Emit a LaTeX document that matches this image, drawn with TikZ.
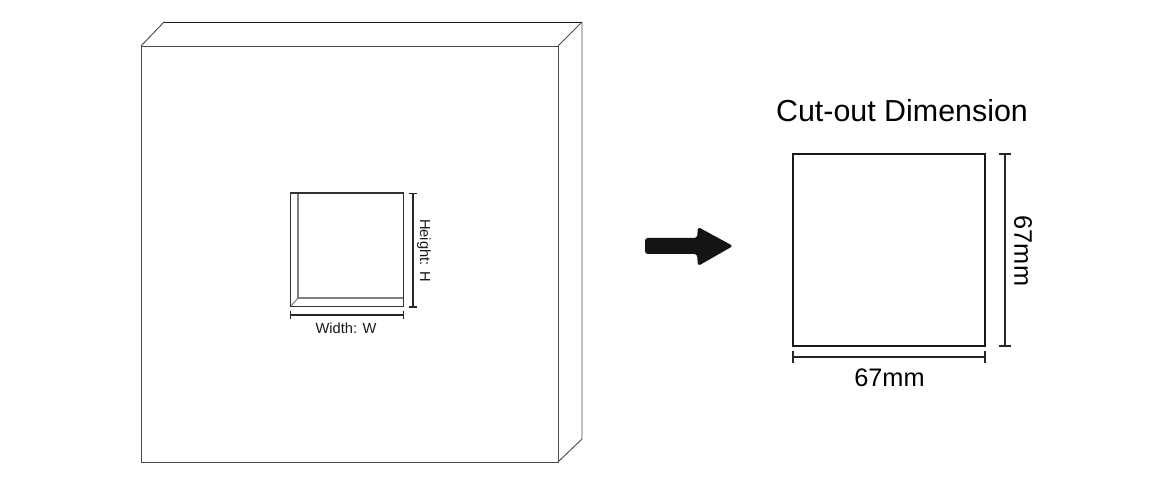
\documentclass[tikz,border=0pt]{standalone}
\usepackage{fontspec}
\setmainfont{Liberation Sans}
\begin{document}
\begin{tikzpicture}[x=0.75pt,y=-0.75pt,line join=miter]
\tikzstyle{panel}=[draw=black!70, line width=0.7pt]
\tikzstyle{inner}=[draw=black!50, line width=0.8pt]
\tikzstyle{dim}=[draw=black!85, line width=0.8pt]
\tikzstyle{small}=[inner sep=0pt, text=black!90, font=\fontsize{11}{13}\selectfont]
\tikzstyle{big}=[inner sep=0pt, text=black, font=\fontsize{19}{22}\selectfont]
\useasboundingbox (0,0) rectangle (1154,484);
% panel corners
\coordinate (A) at (141,46);
\coordinate (B) at (558,46);
\coordinate (C) at (558,462);
\coordinate (D) at (141,462);
\coordinate (E) at (164,22);
\coordinate (F) at (582,22);
\coordinate (G) at (582,439);
\draw[panel] (A) -- (B) -- (C) -- (D) -- cycle;
\draw[panel] (A) -- (E);
\draw[panel, draw=black!90] (E) -- (F);
\draw[panel] (F) -- (B);
\draw[panel] (F) -- (G) -- (C);
% hole
\coordinate (H1) at (290.5,193);
\coordinate (H2) at (403.5,193);
\coordinate (H3) at (403.5,306.5);
\coordinate (H4) at (290.5,306.5);
\coordinate (I1) at (298,193);
\coordinate (I2) at (298,298);
\coordinate (I3) at (403.5,298);
\draw[inner] (I1) -- (I2) -- (I3);
\draw[inner] (H4) -- (I2);
\draw[panel, draw=black!80, line width=0.8pt] (H1) -- (H2) -- (H3) -- (H4) -- cycle;
% hole dimensions
\coordinate (W1) at (290.5,315);
\coordinate (W2) at (403.5,315);
\coordinate (V1) at (413,193.5);
\coordinate (V2) at (413,307);
\draw[dim] (W1) -- (W2);
\draw[dim] ([yshift=3.2pt]W1) -- ([yshift=-3.2pt]W1);
\draw[dim] ([yshift=3.2pt]W2) -- ([yshift=-3.2pt]W2);
\draw[dim] (V1) -- (V2);
\draw[dim] ([xshift=-3.2pt]V1) -- ([xshift=3.2pt]V1);
\draw[dim] ([xshift=-3.2pt]V2) -- ([xshift=3.2pt]V2);
\node[small] (widthlabel) at (346,328) {Width: W};
\node[small, rotate=-90] (heightlabel) at (424,250.5) {Height: H};
% arrow
\fill[black!92, rounded corners=2pt] (645,238) -- (697,238) -- (698,227) -- (733,246) -- (698,266) -- (697,254) -- (645,254) -- cycle;
% cut-out
\node[big, font=\fontsize{22.8}{26}\selectfont] (title) at (902,111) {Cut-out Dimension};
\coordinate (S1) at (793,154);
\coordinate (S2) at (985,154);
\coordinate (S3) at (985,346);
\coordinate (S4) at (793,346);
\draw[panel, draw=black!90, line width=0.9pt] (S1) -- (S2) -- (S3) -- (S4) -- cycle;
\coordinate (X1) at (793,357);
\coordinate (X2) at (985,357);
\coordinate (Y1) at (1005,154);
\coordinate (Y2) at (1005,346);
\draw[dim] (X1) -- (X2);
\draw[dim] ([yshift=4.2pt]X1) -- ([yshift=-4.2pt]X1);
\draw[dim] ([yshift=4.2pt]X2) -- ([yshift=-4.2pt]X2);
\draw[dim] (Y1) -- (Y2);
\draw[dim] ([xshift=-4.2pt]Y1) -- ([xshift=4.2pt]Y1);
\draw[dim] ([xshift=-4.2pt]Y2) -- ([xshift=4.2pt]Y2);
\node[big] (xlabel) at (889.5,378) {67mm};
\node[big, rotate=-90] (ylabel) at (1023,251) {67mm};
\end{tikzpicture}
\end{document}
